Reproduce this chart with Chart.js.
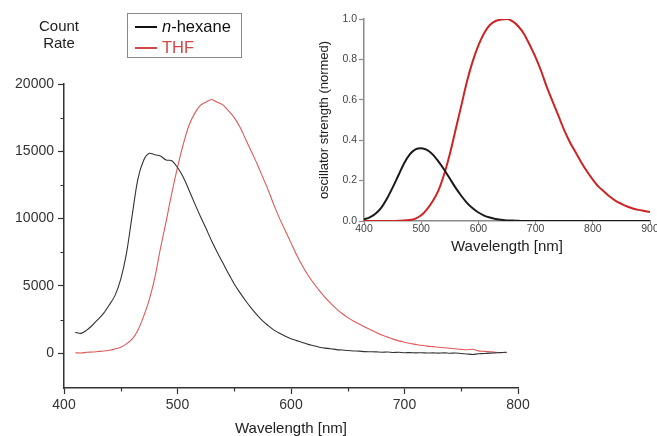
<!DOCTYPE html>
<html>
<head>
<meta charset="utf-8">
<script src="https://cdn.jsdelivr.net/npm/chart.js@4.4.1/dist/chart.umd.min.js"></script>
<style>
  html, body { margin: 0; padding: 0; background: #fff; }
  body { width: 657px; height: 436px; position: relative; overflow: hidden; font-family: "Liberation Sans", Arial, sans-serif; }
  #main { position: absolute; left: 0; top: 0; }
  #inset { position: absolute; left: 300px; top: 0; }
  #countRate { position: absolute; left: 19px; top: 17px; width: 80px; text-align: center; font-size: 15px; line-height: 17px; color: #222; }
  #legend { position: absolute; left: 127px; top: 13px; width: 115px; height: 45px; border: 1px solid #888; box-sizing: border-box; }
  .lg { position: absolute; left: 7px; height: 20px; font-size: 16.5px; line-height: 20px; white-space: nowrap; }
  .lg span.sw { display: inline-block; width: 22px; height: 0; border-top: 2px solid; vertical-align: middle; margin-right: 5px; position: relative; top: -1px; }
</style>
</head>
<body>
<canvas id="main" width="657" height="436"></canvas>
<canvas id="inset" width="357" height="254"></canvas>
<div id="countRate">Count<br>Rate</div>
<div id="legend">
  <div class="lg" style="top:2px;color:#111"><span class="sw" style="border-color:#111"></span><i>n</i>-hexane</div>
  <div class="lg" style="top:23px;color:#d04848"><span class="sw" style="border-color:#d04848"></span>THF</div>
</div>
<script>
// ---------- main chart data ----------
const mainWavelengths = [410,415,420,425,430,435,440,445,450,455,460,465,470,475,480,485,490,495,500,505,510,515,520,525,530,535,540,545,550,555,560,565,570,575,580,585,590,595,600,605,610,615,620,625,630,635,640,645,650,655,660,665,670,675,680,685,690,695,700,705,710,715,720,725,730,735,740,745,750,755,760,765,770,775,780,785,790];
const hexaneCounts = [1550,1480,1720,2080,2520,2980,3600,4300,5500,7400,10200,12900,14300,14850,14750,14650,14350,14300,13800,13100,12150,11150,10200,9300,8350,7500,6700,5900,5150,4500,3900,3350,2850,2400,2050,1720,1480,1260,1080,940,800,660,560,450,380,340,270,240,200,170,160,120,110,100,80,90,60,70,40,50,30,40,20,30,10,30,0,20,-20,-50,-90,-40,-20,10,30,50,80];
const thfCounts = [40,20,70,90,130,170,230,320,450,700,1050,1700,2700,3950,5600,7800,9800,11900,13800,15500,16900,17800,18400,18650,18850,18650,18450,18000,17500,16800,15900,15000,14100,13100,12100,11000,10000,9100,8200,7300,6500,5800,5200,4650,4150,3700,3300,2950,2650,2400,2180,1950,1750,1550,1350,1200,1050,920,820,730,660,590,530,490,450,410,370,330,290,260,300,180,140,110,80,60,50];
const mainXTicks = [400,500,600,700,800];
const mainXMinor = [450,550,650,750];
const mainYTicks = [0,5000,10000,15000,20000];
const mainYMinor = [2500,7500,12500,17500];

// ---------- inset data ----------
const insetWavelengths = [400,410,420,430,440,450,460,470,480,490,500,510,520,530,540,550,560,570,580,590,600,610,620,630,640,650,660,670,680,690,700,710,720,730,740,750,760,770,780,790,800,810,820,830,840,850,860,870,880,890,900];
const hexaneOsc = [0.008,0.018,0.036,0.065,0.11,0.165,0.225,0.285,0.33,0.355,0.36,0.352,0.33,0.295,0.255,0.21,0.165,0.125,0.09,0.063,0.042,0.027,0.017,0.010,0.006,0.003,0.002,0.001,0,0,0,0,0,0,0,0,0,0,0,0,0,0,0,0,0,0,0,0,0,0,0];
const thfOsc = [0,0,0,0,0,0,0.001,0.002,0.005,0.012,0.028,0.058,0.098,0.15,0.23,0.33,0.45,0.57,0.69,0.79,0.87,0.93,0.97,0.99,0.997,1.0,0.988,0.963,0.925,0.87,0.81,0.74,0.66,0.59,0.52,0.45,0.39,0.34,0.29,0.245,0.205,0.17,0.145,0.12,0.10,0.085,0.072,0.062,0.055,0.05,0.045];
const insetXTicks = [400,500,600,700,800,900];
const insetYTicks = [0,0.2,0.4,0.6,0.8,1.0];

const FONT = "'Liberation Sans', Arial, sans-serif";
const pairs = (xs, ys) => ys.map((y, i) => ({ x: xs[i], y }));

const minorTickPlugin = {
  id: 'minorTicks',
  afterDraw(chart) {
    const { ctx } = chart;
    const xs = chart.scales.x, ys = chart.scales.y;
    const bottom = chart.chartArea.bottom, left = chart.chartArea.left;
    ctx.save();
    ctx.strokeStyle = '#333';
    ctx.lineWidth = 1.2;
    ctx.beginPath();
    mainXMinor.forEach(v => {
      const px = Math.round(xs.getPixelForValue(v)) + 0.5;
      ctx.moveTo(px, bottom); ctx.lineTo(px, bottom + 3.5);
    });
    mainYMinor.forEach(v => {
      const py = Math.round(ys.getPixelForValue(v)) + 0.5;
      ctx.moveTo(left, py); ctx.lineTo(left - 3.5, py);
    });
    ctx.stroke();
    ctx.restore();
  }
};

new Chart(document.getElementById('main'), {
  type: 'line',
  data: {
    datasets: [
      { label: 'n-hexane', data: pairs(mainWavelengths, hexaneCounts), borderColor: '#333333', borderWidth: 1.1, pointRadius: 0, tension: 0.3, fill: false },
      { label: 'THF', data: pairs(mainWavelengths, thfCounts), borderColor: '#e05858', borderWidth: 1.1, pointRadius: 0, tension: 0.3, fill: false }
    ]
  },
  options: {
    responsive: false,
    animation: false,
    devicePixelRatio: 1,
    layout: { padding: { left: 0, right: 139, top: 84, bottom: 0 } },
    plugins: { legend: { display: false }, tooltip: { enabled: false } },
    scales: {
      x: {
        type: 'linear', min: 400, max: 800,
        afterBuildTicks: s => { s.ticks = mainXTicks.map(v => ({ value: v })); },
        afterFit: s => { s.height = 48; s.paddingLeft = 0; s.paddingRight = 0; },
        grid: { drawOnChartArea: false, drawTicks: true, tickLength: 6, tickColor: '#333', tickWidth: 1.2 },
        border: { display: true, color: '#333', width: 1.5 },
        ticks: { color: '#333', font: { family: FONT, size: 14 }, padding: 3, maxRotation: 0, callback: v => String(v) },
        title: { display: true, text: 'Wavelength [nm]', color: '#222', font: { family: FONT, size: 15, lineHeight: 1 }, padding: { top: 0, bottom: 0 } }
      },
      y: {
        type: 'linear', min: -2580, max: 20000,
        afterBuildTicks: s => { s.ticks = mainYTicks.map(v => ({ value: v })); },
        afterFit: s => { s.width = 64; s.paddingTop = 0; s.paddingBottom = 0; },
        grid: { drawOnChartArea: false, drawTicks: true, tickLength: 6, tickColor: '#333', tickWidth: 1.2 },
        border: { display: true, color: '#333', width: 1.5 },
        ticks: { color: '#333', font: { family: FONT, size: 14 }, padding: 4, callback: v => String(v) }
      }
    }
  },
  plugins: [minorTickPlugin]
});

new Chart(document.getElementById('inset'), {
  type: 'line',
  data: {
    datasets: [
      { label: 'n-hexane', data: pairs(insetWavelengths, hexaneOsc), borderColor: '#1a1a1a', borderWidth: 2, pointRadius: 0, cubicInterpolationMode: 'monotone', fill: false },
      { label: 'THF', data: pairs(insetWavelengths, thfOsc), borderColor: '#cc2424', borderWidth: 2, pointRadius: 0, cubicInterpolationMode: 'monotone', fill: false }
    ]
  },
  options: {
    responsive: false,
    animation: false,
    devicePixelRatio: 1,
    layout: { padding: { left: 0, right: 7, top: 19, bottom: 0 } },
    plugins: { legend: { display: false }, tooltip: { enabled: false } },
    scales: {
      x: {
        type: 'linear', min: 400, max: 900,
        afterBuildTicks: s => { s.ticks = insetXTicks.map(v => ({ value: v })); },
        afterFit: s => { s.height = 33; s.paddingLeft = 0; s.paddingRight = 0; },
        grid: { drawOnChartArea: false, drawTicks: true, tickLength: 3, tickColor: '#888', tickWidth: 1.2 },
        border: { display: true, color: '#8a8a8a', width: 1.5 },
        ticks: { color: '#444', font: { family: FONT, size: 10.5 }, padding: -1, maxRotation: 0, callback: v => String(v) },
        title: { display: true, text: 'Wavelength [nm]', color: '#222', font: { family: FONT, size: 15, lineHeight: 1 }, padding: { top: 0, bottom: 0 } }
      },
      y: {
        type: 'linear', min: 0, max: 1,
        afterBuildTicks: s => { s.ticks = insetYTicks.map(v => ({ value: v })); },
        afterFit: s => { s.width = 64; s.paddingTop = 0; s.paddingBottom = 0; },
        grid: { drawOnChartArea: false, drawTicks: true, tickLength: 5, tickColor: '#888', tickWidth: 1.2 },
        border: { display: true, color: '#8a8a8a', width: 1.5 },
        ticks: { color: '#444', font: { family: FONT, size: 10.5 }, padding: 2, callback: v => v.toFixed(1) },
        title: { display: true, text: 'oscillator strength (normed)', color: '#222', font: { family: FONT, size: 13 }, padding: { top: 17, bottom: 0 } }
      }
    }
  }
});
</script>
</body>
</html>
